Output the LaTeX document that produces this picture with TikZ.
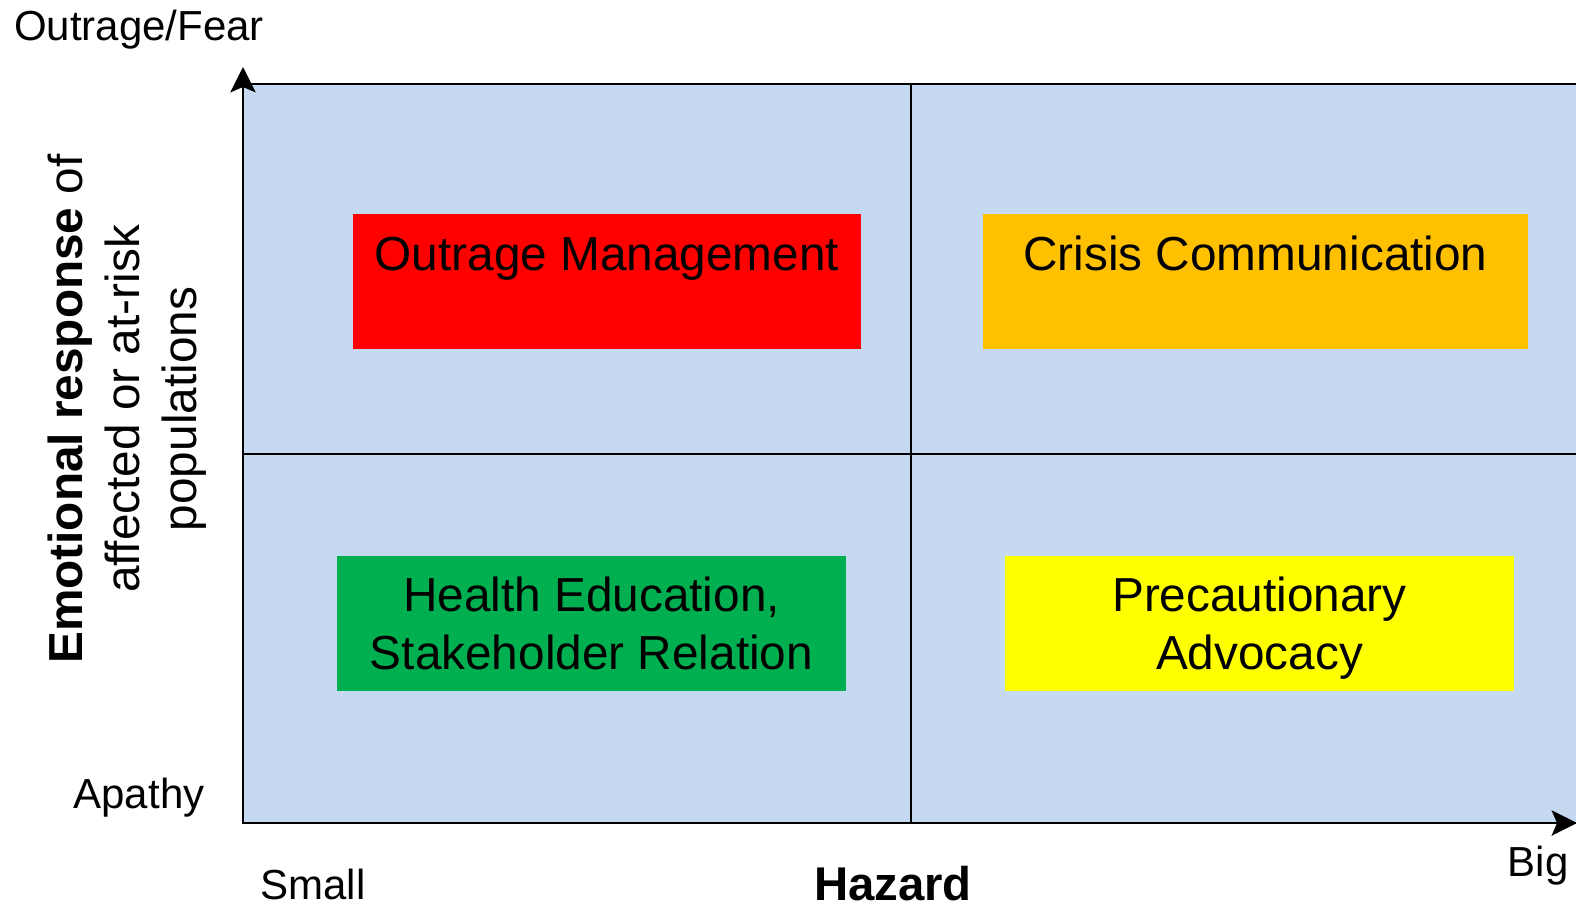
\documentclass[tikz,border=0pt]{standalone}
\usepackage{fontspec}
\setmainfont{Liberation Sans}
\usetikzlibrary{arrows.meta}

\definecolor{quadblue}{RGB}{197,217,241}
\definecolor{quadred}{RGB}{255,0,0}
\definecolor{quadorange}{RGB}{255,192,0}
\definecolor{quadgreen}{RGB}{0,176,80}
\definecolor{quadyellow}{RGB}{255,255,0}

\tikzset{
  quadbox/.style={draw=none, inner sep=0pt, minimum height=101.25pt},
  boxtext/.style={font=\fontsize{35.8}{43.5}\selectfont, align=center, inner sep=0pt},
  axislabel/.style={font=\fontsize{31.5}{38}\selectfont, inner sep=0pt, anchor=base},
  axisarrow/.style={line width=2, -{Stealth[length=19pt, width=19pt, inset=4pt]}},
}

\begin{document}
\begin{tikzpicture}[x=0.75pt,y=0.75pt,yscale=-1,xscale=1]
\clip (0,0) rectangle (1576,907);

%Shape: Rectangle (background of the four quadrants)
\draw [line width=1.5, fill=quadblue] (243,84) rectangle (1590,823) ;
%Straight Lines (quadrant borders)
\draw [line width=1.5] (911,84) -- (911,823) ;
\draw [line width=1.5] (243,454) -- (1590,454) ;

%Axes
\coordinate (origin) at (243,823);
\coordinate (ytip) at (243,67);
\coordinate (xtip) at (1577,823);
\draw [axisarrow] (243,807) -- (ytip) ;
\draw [axisarrow] (origin) -- (xtip) ;

%Shape: Rectangles
\node [quadbox, fill=quadred, minimum width=381pt] (outrage) at (607,281.5) {};
\node [quadbox, fill=quadorange, minimum width=408.75pt] (crisis) at (1255.5,281.5) {};
\node [quadbox, fill=quadgreen, minimum width=381.75pt] (education) at (591.5,623) {};
\node [quadbox, fill=quadyellow, minimum width=381.75pt] (advocacy) at (1259.5,623) {};

% Text Node
\node [boxtext, anchor=base] (outrage text) at (607,270) {Outrage Management};
% Text Node
\node [boxtext, anchor=base] (crisis text) at (1255.5,270) {Crisis Communication};
% Text Node
\node [boxtext, anchor=base] (education text) at (591.5,669) {Health Education,\\Stakeholder Relation};
% Text Node
\node [boxtext, anchor=base] (advocacy text) at (1259.5,669) {Precautionary\\Advocacy};

% Text Node
\node [axislabel] (fear) at (139,40) {Outrage/Fear};
% Text Node
\node [axislabel] (apathy) at (139,808) {Apathy};
% Text Node
\node [axislabel] (small) at (313,899) {Small};
% Text Node
\node [axislabel] (big) at (1538,876) {Big};
% Text Node
\node [font=\fontsize{35.5}{43}\selectfont\bfseries, inner sep=0pt, anchor=base] (hazard) at (893,900) {Hazard};
% Text Node
\node [font=\fontsize{35.8}{43}\selectfont, align=center, rotate=90, inner sep=0pt] (emotion) at (127,409) {\textbf{Emotional response} of\\affected or at-risk\\populations};
\end{tikzpicture}
\end{document}
